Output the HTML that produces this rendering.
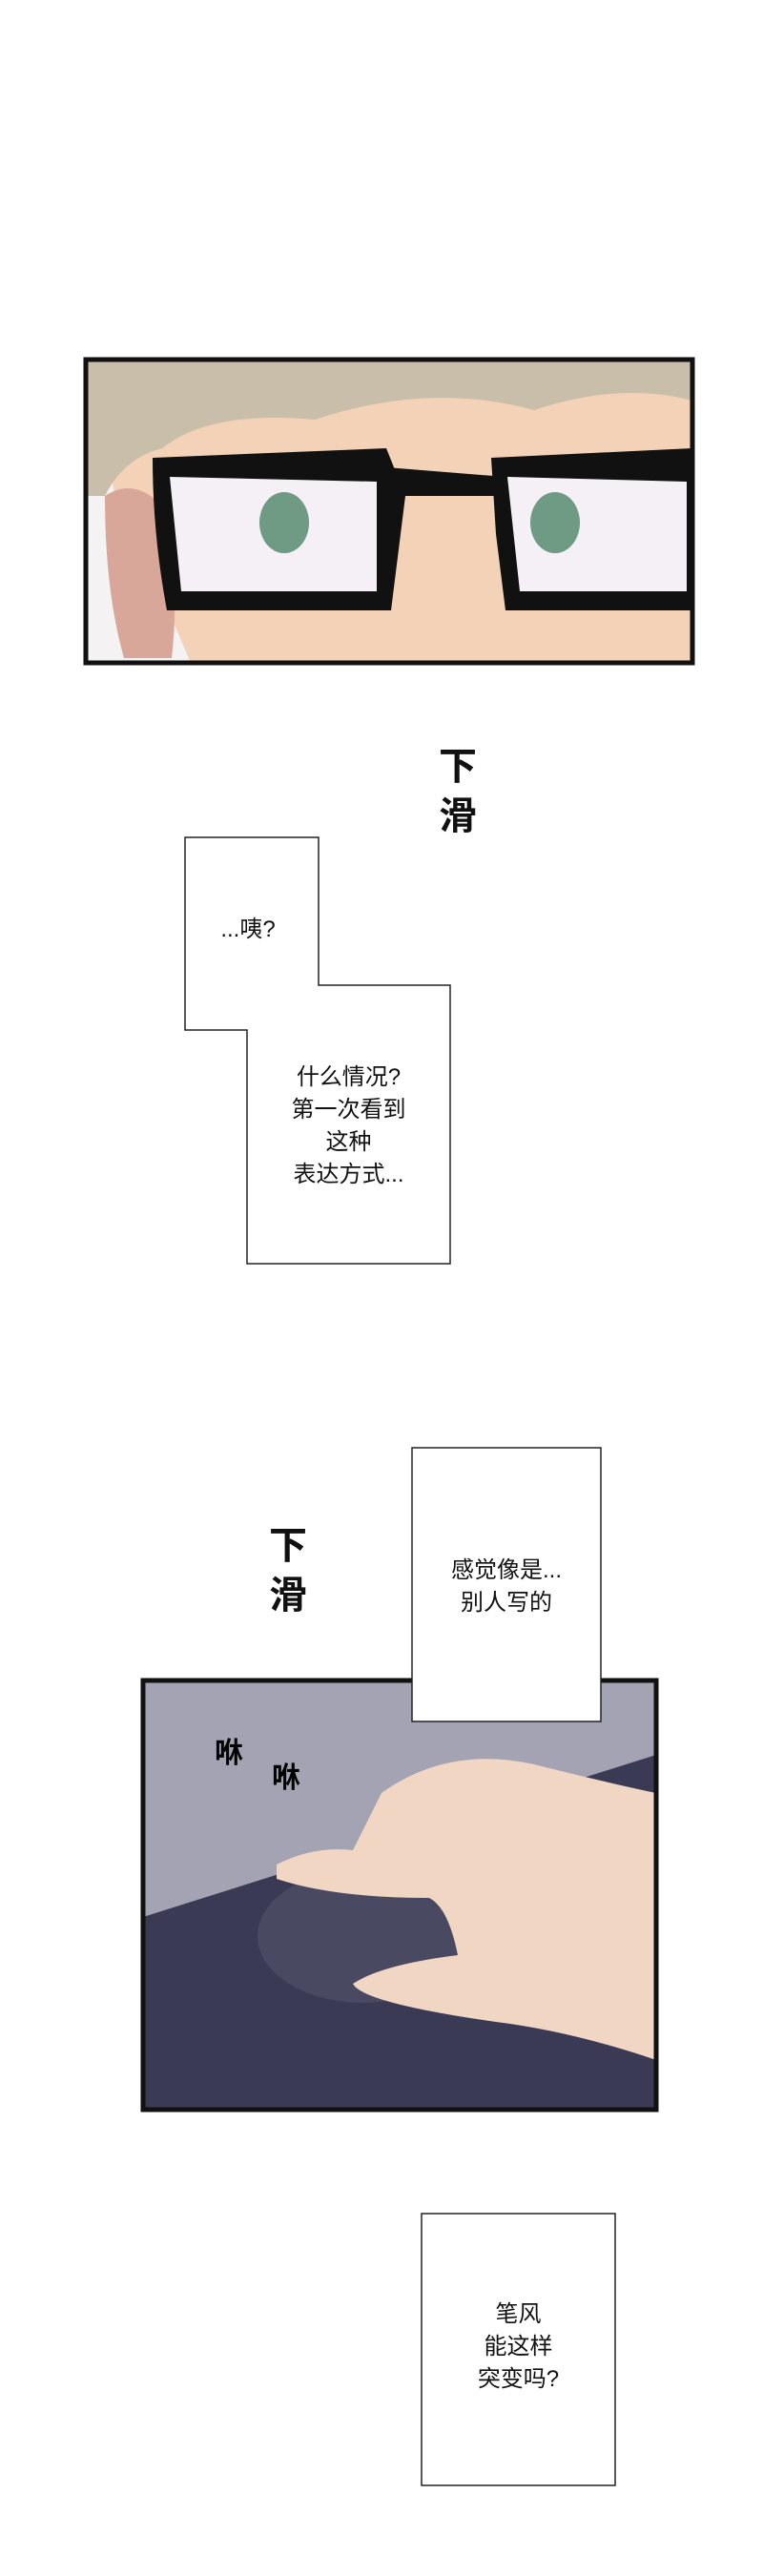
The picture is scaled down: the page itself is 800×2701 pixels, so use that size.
<!DOCTYPE html>
<html><head><meta charset="utf-8"><style>
body{margin:0;background:#fff;width:800px;height:2701px;position:relative;overflow:hidden;font-family:"Liberation Sans","Noto Sans CJK SC",sans-serif}
.t{position:absolute;text-align:center;color:#111;font-size:24px;line-height:34px}
</style></head><body>
<svg width="800" height="2701" style="position:absolute;left:0;top:0">
<defs><clipPath id="c1"><rect x="90" y="377" width="636" height="318"/></clipPath>
<clipPath id="c2"><rect x="150" y="1762" width="538" height="450"/></clipPath></defs>
<g clip-path="url(#c1)">
<rect x="90" y="377" width="636" height="318" fill="#f4f2f2"/>
<path d="M150 377 L726 377 L726 695 L200 695 Q160 600 120 520 L110 450 Z" fill="#f3d2b8"/>
<path d="M90 377 L726 377 L726 420 Q650 400 560 430 Q450 400 330 440 Q220 430 170 470 Q130 480 110 520 L90 520 Z" fill="#c8beaa"/>
<path d="M110 520 Q140 500 170 530 Q190 600 180 690 L130 690 Q110 620 110 520Z" fill="#d9a79a"/>
<path d="M160 480 L405 470 L425 520 L410 640 L175 640 Q160 560 160 480Z" fill="#111"/>
<path d="M178 500 L395 505 L395 620 L190 620 Z" fill="#f4f0f6"/>
<path d="M405 490 L530 500 L540 520 L405 520Z" fill="#111"/>
<path d="M515 480 L726 470 L726 640 L530 640 L520 560Z" fill="#111"/>
<path d="M532 500 L720 505 L720 620 L545 620Z" fill="#f4f0f6"/>
<ellipse cx="298" cy="548" rx="26" ry="32" fill="#6f9a84"/>
<ellipse cx="582" cy="548" rx="26" ry="32" fill="#6f9a84"/>
</g>
<rect x="90" y="377" width="636" height="318" fill="none" stroke="#111" stroke-width="5"/>
<path d="M194 878 L334 878 L334 1033 L472 1033 L472 1325 L259 1325 L259 1080 L194 1080 Z" fill="#fff" stroke="#222" stroke-width="1.5"/>
<g clip-path="url(#c2)">
<rect x="150" y="1762" width="538" height="450" fill="#a3a3b3"/>
<path d="M150 2010 L688 1840 L688 2212 L150 2212Z" fill="#3b3a55"/>
<ellipse cx="380" cy="2030" rx="110" ry="70" fill="#4a4962"/>
<path d="M290 1955 Q330 1935 370 1940 L400 1880 Q470 1830 560 1850 Q640 1870 688 1880 L688 2160 Q600 2130 520 2120 Q380 2100 370 2080 Q400 2060 480 2050 Q470 2000 450 1990 Q350 1990 290 1970Z" fill="#f1d6c3"/>
</g>
<rect x="150" y="1762" width="538" height="450" fill="none" stroke="#111" stroke-width="5"/>
<rect x="432" y="1518" width="198" height="287" fill="#fff" stroke="#222" stroke-width="1.5"/>
<rect x="442" y="2321" width="203" height="285" fill="#fff" stroke="#222" stroke-width="1.5"/>
</svg>
<div class="t" style="left:440px;top:778px;font-size:40px;line-height:52px;width:80px;font-weight:bold">下<br>滑</div>
<div class="t" style="left:200px;top:958px;width:120px">...咦?</div>
<div class="t" style="left:259px;top:1113px;width:213px">什么情况?<br>第一次看到<br>这种<br>表达方式...</div>
<div class="t" style="left:262px;top:1595px;font-size:40px;line-height:52px;width:80px;font-weight:bold">下<br>滑</div>
<div class="t" style="left:432px;top:1630px;width:198px">感觉像是...<br>别人写的</div>
<div class="t" style="left:205px;top:1822px;width:70px;font-size:30px;font-weight:bold;color:#000">咻</div>
<div class="t" style="left:265px;top:1848px;width:70px;font-size:30px;font-weight:bold;color:#000">咻</div>
<div class="t" style="left:442px;top:2410px;width:203px">笔风<br>能这样<br>突变吗?</div>
</body></html>
